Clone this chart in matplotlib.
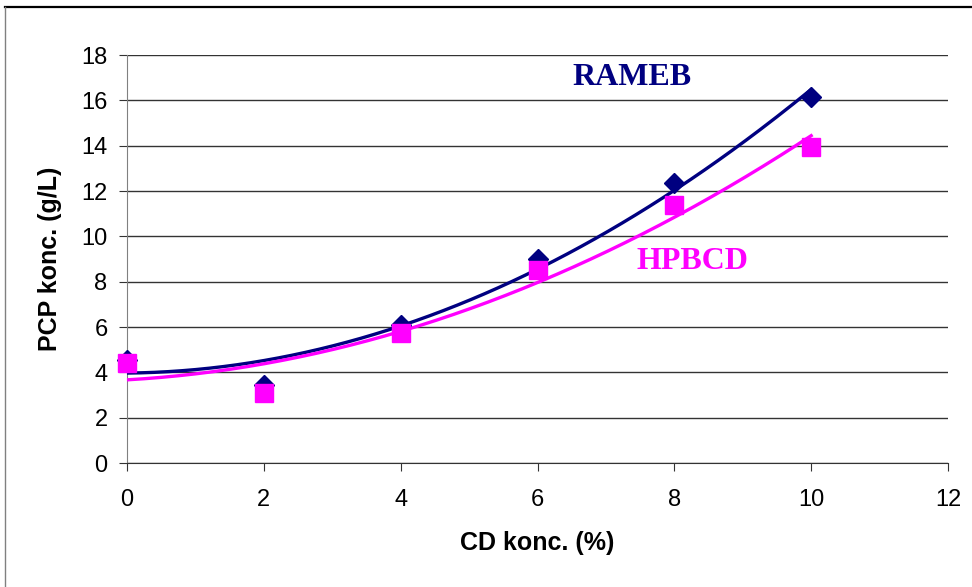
import numpy as np
import matplotlib.pyplot as plt
from matplotlib.lines import Line2D

# CD concentration (%) and measured PCP concentration (g/L)
cd_conc = [0, 2, 4, 6, 8, 10]
rameb = [4.55, 3.45, 6.1, 9.0, 12.35, 16.15]
hpbcd = [4.4, 3.1, 5.75, 8.5, 11.4, 13.95]

fig = plt.figure(figsize=(9.72, 5.87), dpi=100)
ax = fig.add_axes([0.1307, 0.2112, 0.8446, 0.6951])

# outer chart border (Excel-like)
fig.add_artist(Line2D([5/972, 1.0], [1 - 7/587, 1 - 7/587], color='black', lw=1.6,
                      transform=fig.transFigure))
fig.add_artist(Line2D([5/972, 5/972], [0, 1 - 7/587], color='#808080', lw=1.0,
                      transform=fig.transFigure))

# 2nd-order polynomial trend lines
xs = np.linspace(0, 10, 200)
p_r = np.polyfit(cd_conc, rameb, 2)
p_h = np.polyfit(cd_conc, hpbcd, 2)
ax.plot(xs, np.polyval(p_r, xs), color='#000080', lw=2.4, zorder=3)
ax.plot(xs, np.polyval(p_h, xs), color='#FF00FF', lw=2.4, zorder=3)

ax.plot(cd_conc, rameb, linestyle='none', marker='D', markersize=10,
        color='#000080', zorder=4, clip_on=False)
ax.plot(cd_conc, hpbcd, linestyle='none', marker='s', markersize=13,
        color='#FF00FF', zorder=5, clip_on=False)

ax.set_xlim(0, 12)
ax.set_ylim(0, 18)
ax.set_xticks(range(0, 13, 2))
ax.set_yticks(range(0, 19, 2))
ax.yaxis.grid(True, color='#333333', lw=1.0)
ax.set_axisbelow(True)
for s in ['top', 'right']:
    ax.spines[s].set_visible(False)
ax.spines['left'].set_color('#808080')
ax.spines['bottom'].set_color('#333333')
ax.tick_params(direction='out', length=6, color='#333333', labelsize=17)
ax.tick_params(axis='y', pad=8)
ax.tick_params(axis='x', pad=13)
for lab in ax.get_xticklabels() + ax.get_yticklabels():
    lab.set_fontfamily('Liberation Sans')

ax.set_xlabel('CD konc. (%)', fontsize=18, fontweight='bold', family='Liberation Sans',
              labelpad=14)
ax.set_ylabel('PCP konc. (g/L)', fontsize=18, fontweight='bold', family='Liberation Sans',
              labelpad=14)

ax.text(7.38, 17.0, 'RAMEB', color='#000080', fontsize=23, fontweight='bold',
        family='Liberation Serif', ha='center', va='center')
ax.text(8.27, 8.87, 'HPBCD', color='#FF00FF', fontsize=23, fontweight='bold',
        family='Liberation Serif', ha='center', va='center')

fig.savefig('out.png', dpi=100)
